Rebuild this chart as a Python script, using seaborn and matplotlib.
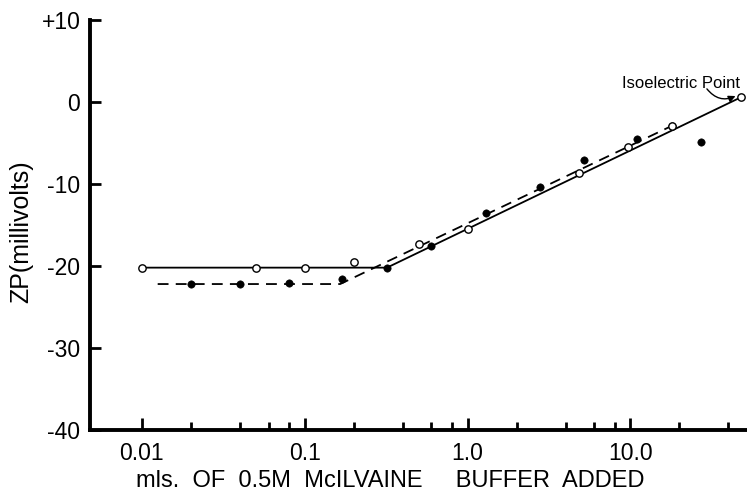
import matplotlib
matplotlib.use("Agg")
import matplotlib.pyplot as plt
import seaborn as sns
from matplotlib.ticker import FixedLocator, NullFormatter

# Open circles (solid line series)
open_x = [0.01, 0.05, 0.1, 0.2, 0.5, 1.0, 4.8, 9.6, 18.0, 48.0]
open_y = [-20.2, -20.2, -20.2, -19.5, -17.3, -15.5, -8.7, -5.5, -2.9, 0.6]

# Filled circles (dashed line series)
filled_x = [0.02, 0.04, 0.08, 0.17, 0.32, 0.6, 1.3, 2.8, 5.2, 10.9, 18.0, 27.0]
filled_y = [-22.2, -22.2, -22.1, -21.6, -20.3, -17.5, -13.5, -10.4, -7.1, -4.5, -2.9, -4.9]

# Fitted lines
solid_x = [0.01, 0.32, 48.0]
solid_y = [-20.2, -20.2, 0.6]
dashed_x = [0.0125, 0.165, 18.0]
dashed_y = [-22.2, -22.2, -2.9]

major_ticks = [0.01, 0.1, 1.0, 10.0]
major_labels = ["0.01", "0.1", "1.0", "10.0"]
minor_ticks = [0.02, 0.04, 0.06, 0.08, 0.2, 0.4, 0.6, 0.8, 2, 4, 6, 8, 20, 40]
y_ticks = [10, 0, -10, -20, -30, -40]
y_labels = ["+10", "0", "-10", "-20", "-30", "-40"]

sns.set_style("ticks")
plt.rcParams['font.family'] = ['Liberation Sans', 'DejaVu Sans']
plt.rcParams['text.color'] = 'black'
plt.rcParams['axes.labelcolor'] = 'black'
plt.rcParams['xtick.color'] = 'black'
plt.rcParams['ytick.color'] = 'black'
plt.rcParams['axes.edgecolor'] = 'black'

fig = plt.figure(figsize=(7.47, 4.96), dpi=100)
ax = fig.add_axes([90/747, 1 - 430/496, 1 - 90/747, (430 - 20)/496])

sns.lineplot(x=solid_x, y=solid_y, ax=ax, color="black", lw=1.3, linestyle="-", sort=False)
sns.lineplot(x=dashed_x, y=dashed_y, ax=ax, color="black", lw=1.3, linestyle=(0, (6, 4)), sort=False)

sns.scatterplot(x=filled_x, y=filled_y, ax=ax, color="black", edgecolor="black", s=28, marker="o", zorder=5)
sns.scatterplot(x=open_x, y=open_y, ax=ax, color="white", edgecolor="black", linewidth=1.0, s=28, marker="o", zorder=6)

ax.set_xscale("log")
ax.set_xlim(0.0048, 52)
ax.set_ylim(-40, 10)

ax.xaxis.set_major_locator(FixedLocator(major_ticks))
ax.set_xticklabels(major_labels)
ax.xaxis.set_minor_locator(FixedLocator(minor_ticks))
ax.xaxis.set_minor_formatter(NullFormatter())
ax.set_yticks(y_ticks)
ax.set_yticklabels(y_labels)

for s in ["top", "right"]:
    ax.spines[s].set_visible(False)
for s in ["left", "bottom"]:
    ax.spines[s].set_linewidth(2.8)

ax.tick_params(axis="x", which="major", direction="in", length=9, width=2, labelsize=16.5, pad=9)
ax.tick_params(axis="x", which="minor", direction="in", length=6, width=2)
ax.tick_params(axis="y", which="major", direction="in", length=8, width=2, labelsize=16.5, pad=7)

ax.set_xlabel("mls.  OF  0.5M  McILVAINE     BUFFER  ADDED", fontsize=17)
ax.xaxis.set_label_coords(0.457, -0.098)
ax.set_ylabel("ZP(millivolts)", fontsize=18)
ax.yaxis.set_label_coords(-0.087, 0.483)

ax.text(47.3, 2.2, "Isoelectric Point", fontsize=12, ha="right", va="center")
ax.annotate("", xy=(45, 0.8), xytext=(29.5, 1.6),
            arrowprops=dict(arrowstyle="-|>", color="black", lw=1.0,
                            connectionstyle="arc3,rad=0.4", shrinkA=0, shrinkB=1,
                            mutation_scale=10))

fig.savefig("out.png", dpi=100)
